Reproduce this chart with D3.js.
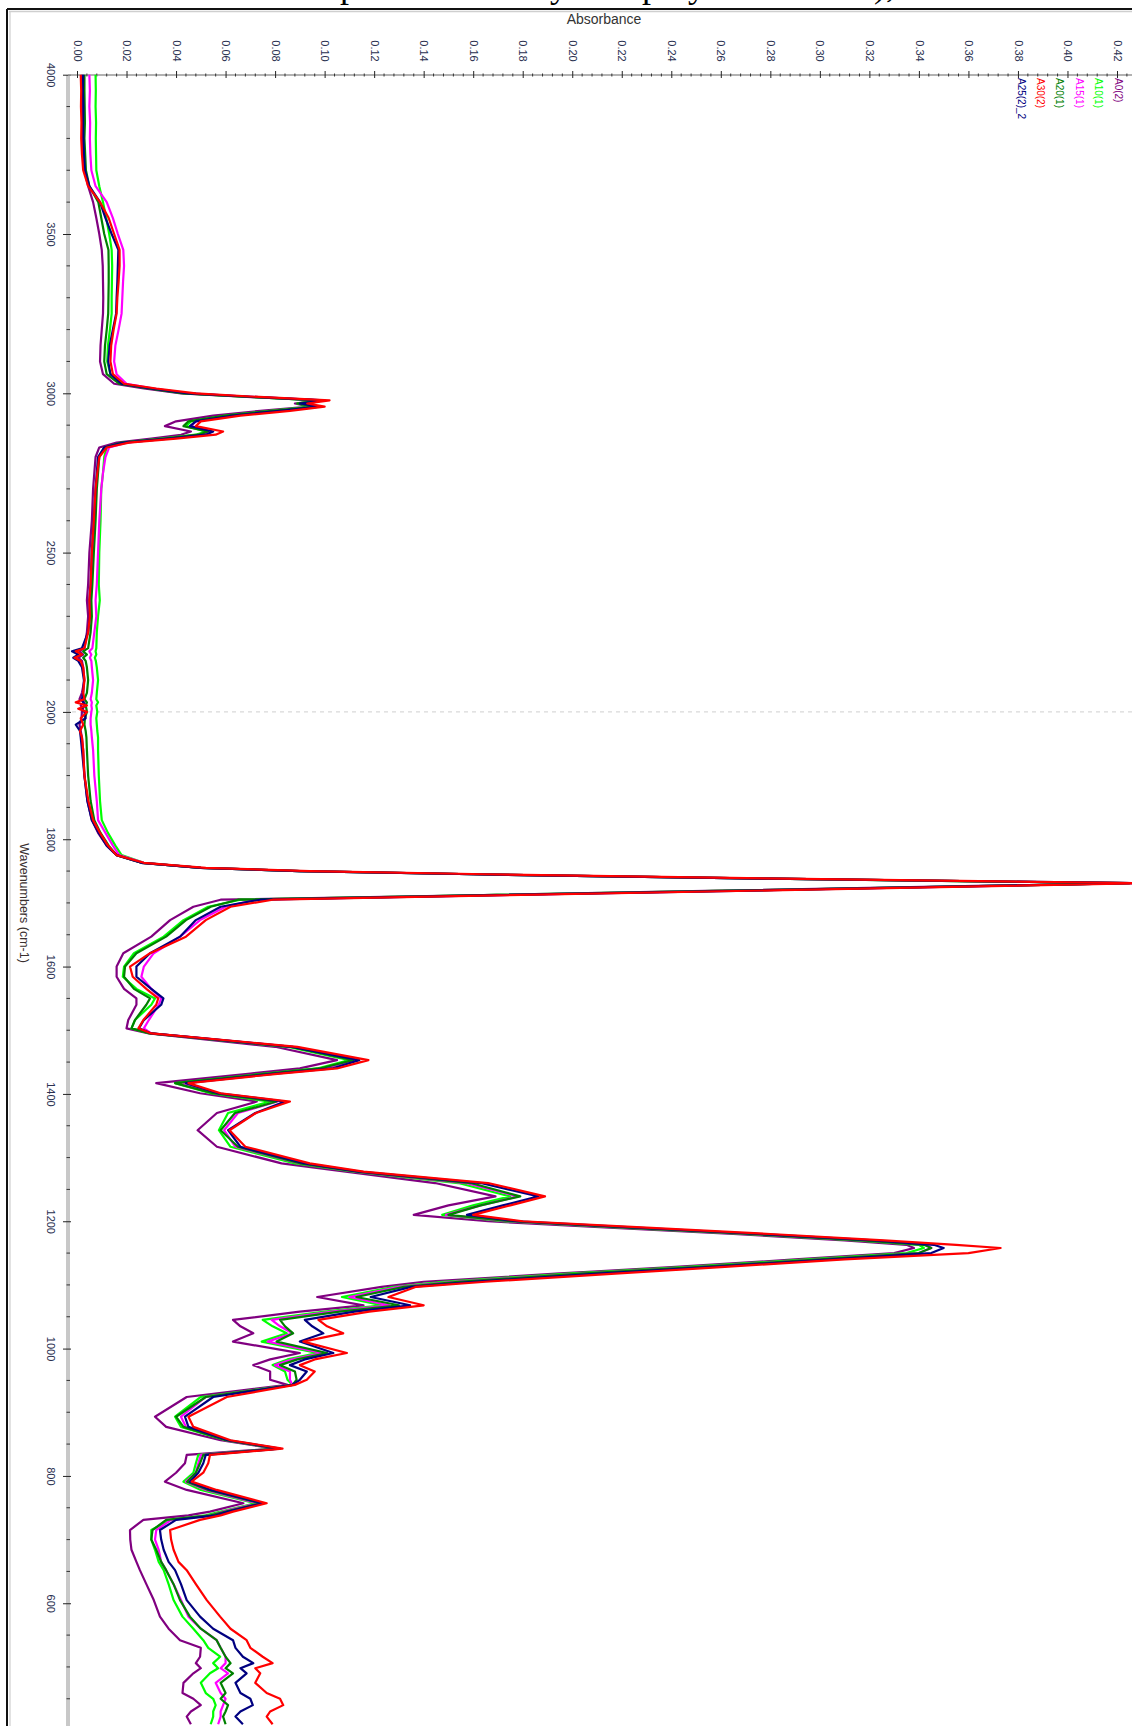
<!DOCTYPE html>
<html>
<head>
<meta charset="utf-8">
<script src="https://cdn.jsdelivr.net/npm/d3@7/dist/d3.min.js"></script>
<style>
  body { margin: 0; background: #fff; }
  svg { display: block; }
</style>
</head>
<body>
<div id="chart"></div>
<script>
(function () {
  'use strict';

  // wavenumber grid (cm-1), shared by all spectra
  var wavenumbers = [
    4000, 3950, 3900, 3850, 3800, 3750, 3700, 3650, 3600, 3550, 3500, 3450, 3400, 3350, 3300, 3250, 3200, 3150, 3100,
    3060, 3030, 3015, 3000, 2990, 2978, 2968, 2958, 2945, 2930, 2912, 2897, 2880, 2870, 2858, 2845, 2830,
    2800, 2750, 2700, 2600, 2500, 2400, 2350, 2300, 2250, 2200, 2190, 2180, 2170, 2160, 2140,
    2100, 2060, 2040, 2030, 2020, 2010, 2000, 1990, 1980, 1970, 1960, 1940, 1900, 1860, 1830,
    1810, 1790, 1775, 1763, 1755, 1750, 1745, 1738, 1731, 1720, 1710, 1705, 1694,
    1673, 1647, 1621, 1600, 1584, 1565, 1550, 1540, 1516, 1503, 1495, 1474, 1453, 1440, 1432, 1417,
    1401, 1388, 1370, 1343, 1317, 1291, 1278, 1260, 1239, 1225, 1210,
    1200, 1190, 1180, 1170, 1163, 1158, 1150, 1140, 1128, 1118, 1105, 1097,
    1081, 1068, 1058, 1045, 1035, 1024, 1011, 993, 983, 974, 964, 951, 943,
    924, 893, 877, 856, 843, 833, 820, 805, 791, 778, 757, 744, 738, 731,
    715, 700, 684, 665, 652, 630, 605, 579, 560, 542, 530, 516, 506, 498, 490, 475, 459, 450, 440, 430, 422, 410
  ];

  var a0 = [
    .0020, .0022, .0021, .0023, .0022, .0025, .0030, .0045, .0065, .0078, .0090, .0100, .0104, .0105, .0106, .0105, .0100, .0095, .0093,
    .0105, .0150, .0270, .0420, .0650, .0980, .0880, .0940, .0740, .0550, .0400, .0355, .0460, .0420, .0300, .0160, .0090,
    .0075, .0070, .0065, .0060, .0050, .0045, .0040, .0045, .0040, .0030, .0010, .0025, .0005, .0020, .0025,
    .0030, .0020, .0010, .0030, .0015, .0025, .0020, .0018, .0010, .0015, .0020, .0025, .0030, .0042, .0060,
    .0085, .0120, .0160, .0260, .0500, .0900, .1600, .2800, .4250, .2700, .1300, .0580, .0470,
    .0376, .0300, .0187, .0160, .0160, .0190, .0240, .0240, .0207, .0200, .0290, .0800, .1050, .0900, .0700, .0320,
    .0497, .0726, .0565, .0487, .0565, .0826, .1085, .1446, .1690, .1500, .1360,
    .1660, .2150, .2650, .3100, .3350, .3380, .3300, .2900, .2400, .1950, .1400, .1230,
    .0970, .1157, .0900, .0630, .0660, .0712, .0630, .0900, .0780, .0712, .0780, .0780, .0850,
    .0443, .0315, .0360, .0580, .0800, .0443, .0436, .0400, .0355, .0443, .0672, .0537, .0450, .0268,
    .0214, .0215, .0220, .0240, .0254, .0280, .0310, .0335, .0370, .0416, .0500, .0497, .0480, .0500, .0470, .0430, .0426, .0470, .0500, .0460, .0443, .0460
  ];

  var a10 = [
    .0075, .0076, .0075, .0077, .0076, .0077, .0078, .0090, .0105, .0118, .0130, .0140, .0142, .0141, .0140, .0140, .0133, .0125, .0122,
    .0135, .0180, .0300, .0440, .0660, .0970, .0890, .0950, .0780, .0600, .0460, .0440, .0520, .0480, .0340, .0190, .0120,
    .0110, .0105, .0098, .0095, .0090, .0088, .0092, .0085, .0080, .0078, .0075, .0078, .0072, .0076, .0080,
    .0085, .0080, .0078, .0085, .0078, .0080, .0082, .0078, .0080, .0082, .0085, .0085, .0088, .0093, .0100,
    .0125, .0155, .0180, .0270, .0500, .0900, .1600, .2800, .4250, .2750, .1330, .0660, .0530,
    .0430, .0350, .0230, .0190, .0185, .0240, .0315, .0300, .0234, .0220, .0295, .0850, .1100, .0970, .0760, .0396,
    .0540, .0780, .0610, .0573, .0620, .0880, .1120, .1540, .1750, .1600, .1475,
    .1720, .2200, .2700, .3150, .3400, .3420, .3350, .2950, .2450, .2000, .1480, .1280,
    .1070, .1230, .1000, .0750, .0790, .0847, .0746, .0970, .0850, .0790, .0840, .0850, .0870,
    .0500, .0396, .0420, .0600, .0810, .0490, .0480, .0470, .0430, .0500, .0720, .0580, .0520, .0376,
    .0300, .0300, .0315, .0330, .0350, .0370, .0390, .0426, .0470, .0510, .0530, .0578, .0550, .0570, .0537, .0500, .0520, .0550, .0560, .0550, .0550, .0540
  ];

  var a15 = [
    .0050, .0052, .0050, .0053, .0052, .0054, .0058, .0075, .0120, .0145, .0165, .0187, .0190, .0186, .0183, .0180, .0168, .0155, .0150,
    .0160, .0200, .0310, .0450, .0680, .0990, .0900, .0970, .0800, .0620, .0480, .0460, .0540, .0500, .0360, .0200, .0130,
    .0115, .0105, .0098, .0090, .0085, .0080, .0075, .0078, .0070, .0062, .0050, .0058, .0052, .0058, .0060,
    .0065, .0060, .0055, .0060, .0058, .0060, .0058, .0055, .0055, .0058, .0060, .0065, .0070, .0080, .0085,
    .0115, .0145, .0170, .0270, .0500, .0900, .1600, .2800, .4260, .2780, .1360, .0720, .0600,
    .0497, .0416, .0310, .0270, .0260, .0300, .0340, .0330, .0290, .0270, .0300, .0870, .1120, .1000, .0780, .0430,
    .0560, .0810, .0650, .0594, .0640, .0900, .1130, .1570, .1780, .1630, .1490,
    .1740, .2220, .2720, .3180, .3430, .3450, .3400, .3000, .2500, .2050, .1520, .1300,
    .1100, .1260, .1030, .0786, .0820, .0870, .0770, .0990, .0870, .0800, .0860, .0860, .0870,
    .0520, .0420, .0440, .0600, .0810, .0500, .0490, .0480, .0440, .0520, .0730, .0590, .0540, .0380,
    .0320, .0315, .0330, .0340, .0360, .0390, .0420, .0450, .0500, .0564, .0580, .0600, .0600, .0580, .0610, .0560, .0580, .0600, .0590, .0580, .0580, .0570
  ];

  var a20 = [
    .0030, .0030, .0031, .0032, .0030, .0033, .0036, .0050, .0086, .0098, .0110, .0127, .0128, .0128, .0127, .0126, .0120, .0113, .0110,
    .0120, .0170, .0290, .0430, .0660, .0980, .0890, .0960, .0790, .0600, .0450, .0430, .0530, .0490, .0350, .0180, .0110,
    .0090, .0085, .0080, .0075, .0068, .0062, .0058, .0060, .0055, .0045, .0025, .0040, .0025, .0035, .0040,
    .0045, .0040, .0030, .0040, .0035, .0038, .0040, .0032, .0030, .0035, .0038, .0040, .0045, .0055, .0070,
    .0095, .0128, .0160, .0260, .0500, .0900, .1600, .2800, .4250, .2750, .1340, .0650, .0540,
    .0440, .0360, .0240, .0194, .0190, .0230, .0295, .0280, .0234, .0220, .0295, .0860, .1115, .0980, .0770, .0396,
    .0550, .0806, .0638, .0580, .0650, .0900, .1130, .1590, .1790, .1630, .1500,
    .1750, .2220, .2720, .3170, .3420, .3450, .3400, .3000, .2500, .2050, .1540, .1320,
    .1128, .1300, .1060, .0820, .0840, .0873, .0806, .1010, .0890, .0820, .0880, .0887, .0870,
    .0520, .0400, .0430, .0600, .0810, .0510, .0497, .0480, .0445, .0530, .0740, .0600, .0540, .0360,
    .0305, .0300, .0320, .0340, .0360, .0390, .0416, .0456, .0500, .0564, .0580, .0600, .0620, .0600, .0630, .0580, .0600, .0580, .0610, .0600, .0590, .0600
  ];

  var a30 = [
    .0015, .0017, .0016, .0018, .0017, .0020, .0025, .0045, .0093, .0128, .0150, .0172, .0172, .0168, .0163, .0160, .0148, .0138, .0135,
    .0145, .0190, .0320, .0480, .0700, .1020, .0930, .1000, .0860, .0660, .0500, .0480, .0590, .0560, .0400, .0210, .0120,
    .0090, .0082, .0075, .0068, .0060, .0055, .0050, .0052, .0045, .0030, -.0005, .0020, -.0010, .0015, .0025,
    .0030, .0025, .0030, -.0005, .0040, .0005, .0040, .0015, .0025, .0012, .0020, .0025, .0030, .0046, .0065,
    .0093, .0125, .0160, .0270, .0520, .0940, .1650, .2850, .4300, .2850, .1420, .0790, .0620,
    .0520, .0440, .0295, .0214, .0225, .0280, .0328, .0320, .0268, .0248, .0300, .0890, .1177, .1050, .0820, .0450,
    .0580, .0860, .0723, .0616, .0680, .0940, .1157, .1660, .1890, .1750, .1600,
    .1800, .2300, .2800, .3260, .3550, .3730, .3600, .3100, .2600, .2190, .1650, .1370,
    .1258, .1400, .1180, .0975, .1010, .1075, .0914, .1090, .0960, .0900, .0960, .0928, .0880,
    .0605, .0450, .0470, .0620, .0830, .0537, .0530, .0510, .0463, .0564, .0766, .0630, .0580, .0497,
    .0376, .0380, .0390, .0410, .0443, .0480, .0524, .0578, .0620, .0685, .0700, .0750, .0790, .0720, .0740, .0720, .0766, .0820, .0833, .0780, .0766, .0790
  ];

  var a25 = [
    .0025, .0024, .0026, .0025, .0026, .0028, .0032, .0050, .0093, .0115, .0140, .0167, .0165, .0163, .0160, .0158, .0145, .0132, .0126,
    .0135, .0180, .0300, .0450, .0680, .1000, .0900, .0980, .0820, .0630, .0480, .0456, .0550, .0520, .0370, .0190, .0110,
    .0085, .0080, .0075, .0068, .0060, .0055, .0050, .0052, .0045, .0020, -.0020, .0005, -.0015, .0005, .0020,
    .0028, .0025, .0020, .0025, .0035, .0015, .0030, .0035, -.0005, .0012, .0015, .0020, .0030, .0042, .0060,
    .0088, .0120, .0160, .0260, .0500, .0900, .1600, .2800, .4270, .2800, .1390, .0740, .0580,
    .0480, .0416, .0295, .0240, .0240, .0300, .0349, .0340, .0270, .0250, .0300, .0870, .1140, .1030, .0800, .0440,
    .0570, .0840, .0720, .0610, .0660, .0920, .1140, .1630, .1864, .1720, .1575,
    .1780, .2260, .2760, .3220, .3460, .3500, .3450, .3050, .2550, .2120, .1600, .1350,
    .1186, .1345, .1120, .0920, .0950, .0995, .0900, .1035, .0920, .0860, .0928, .0900, .0870,
    .0550, .0436, .0450, .0610, .0820, .0520, .0510, .0490, .0456, .0540, .0750, .0610, .0560, .0400,
    .0335, .0340, .0350, .0370, .0396, .0420, .0443, .0497, .0550, .0630, .0640, .0670, .0712, .0660, .0685, .0640, .0660, .0700, .0710, .0660, .0640, .0670
  ];

  var seriesNames = ['A0(2)', 'A10(1)', 'A15(1)', 'A20(1)', 'A30(2)', 'A25(2)_2'];
  var seriesValues = [a0, a10, a15, a20, a30, a25];
  var seriesColors = ['#800080', '#00ff00', '#ff00ff', '#008000', '#ff0000', '#000080'];
  var drawOrder = [0, 1, 2, 3, 5, 4];

  var absTicks = [0, .02, .04, .06, .08, .10, .12, .14, .16, .18, .20, .22, .24, .26, .28, .30, .32, .34, .36, .38, .40, .42];
  var wnTicks = [4000, 3500, 3000, 2500, 2000, 1800, 1600, 1400, 1200, 1000, 800, 600];

  var width = 1132;
  var height = 1726;
  var axisX = 68;
  var axisY = 75;

  // the spectrum is shown turned a quarter clockwise: wavenumber runs down, absorbance runs right
  var x = d3.scaleLinear().domain([0, 0.42]).range([77, 1117]);
  var y = d3.scaleLinear().domain([4000, 2000, 400]).range([74.7, 711.9, 1730.6]);

  var svg = d3.select('#chart')
      .append('svg')
      .attr('width', width)
      .attr('height', height)
      .style('font-family', 'Arial, "Liberation Sans", sans-serif');

  svg.append('rect').attr('width', width).attr('height', height).attr('fill', '#fff');

  // caption sits above the page, only its descenders show
  var cap = svg.append('text')
      .attr('y', -3)
      .style('font-family', '"Liberation Serif", "Times New Roman", serif')
      .style('font-size', '36px')
      .attr('fill', '#000');
  cap.append('tspan').attr('x', 326).text('spectra of the');
  cap.append('tspan').attr('x', 532).text('by');
  cap.append('tspan').attr('x', 642).text('poly');
  cap.append('tspan').attr('x', 895).attr('text-anchor', 'end').text('acid),');

  // outer frame
  svg.append('line').attr('x1', 7).attr('x2', 7).attr('y1', 9).attr('y2', height)
      .attr('stroke', '#111').attr('stroke-width', 2);
  svg.append('line').attr('x1', 7).attr('x2', width).attr('y1', 9).attr('y2', 9)
      .attr('stroke', '#111').attr('stroke-width', 2);
  svg.append('line').attr('x1', 10).attr('x2', 10).attr('y1', 11).attr('y2', height)
      .attr('stroke', '#e2e2e2').attr('stroke-width', 2);
  svg.append('line').attr('x1', 9).attr('x2', width).attr('y1', 11.5).attr('y2', 11.5)
      .attr('stroke', '#cfcfcf').attr('stroke-width', 1.5);

  svg.append('text')
      .attr('x', 604).attr('y', 24)
      .attr('text-anchor', 'middle')
      .style('font-size', '14px')
      .attr('fill', '#333')
      .text('Absorbance');

  // scale break marker at 2000 cm-1
  svg.append('line')
      .attr('x1', axisX + 4).attr('x2', width)
      .attr('y1', y(2000)).attr('y2', y(2000))
      .attr('stroke', '#cfcfcf').attr('stroke-dasharray', '4,4');

  // wavenumber axis (left)
  svg.append('line')
      .attr('x1', axisX).attr('x2', axisX)
      .attr('y1', axisY).attr('y2', height)
      .attr('stroke', '#c8c8c8').attr('stroke-width', 4);

  var wnMinor = d3.range(4000, 2000, -100).concat(d3.range(2000, 399, -50))
      .filter(function (d) { return wnTicks.indexOf(d) < 0; });

  svg.append('g')
      .attr('transform', 'translate(' + axisX + ',0)')
      .selectAll('line')
      .data(wnMinor)
      .enter()
      .append('line')
      .attr('x1', -1.5).attr('x2', 2)
      .attr('y1', function (d) { return y(d); })
      .attr('y2', function (d) { return y(d); })
      .attr('stroke', '#333');

  var gy = svg.append('g')
      .attr('transform', 'translate(' + axisX + ',0)')
      .call(d3.axisLeft(y).tickValues(wnTicks).tickFormat(d3.format('d')).tickSize(5).tickPadding(0));
  gy.select('.domain').remove();
  gy.selectAll('.tick line').attr('x1', -5).attr('x2', 3).attr('stroke', '#222');
  gy.selectAll('.tick text')
      .attr('x', 0).attr('y', 0).attr('dy', '0.35em')
      .attr('text-anchor', 'middle')
      .attr('transform', 'translate(-17,0) rotate(90)')
      .style('font-size', '11px')
      .attr('fill', '#2a3050');

  svg.append('text')
      .attr('transform', 'translate(24,903) rotate(90)')
      .attr('dy', '0.35em')
      .attr('text-anchor', 'middle')
      .style('font-size', '12.5px')
      .attr('fill', '#3a3030')
      .text('Wavenumbers (cm-1)');

  // absorbance axis (top)
  svg.append('line')
      .attr('x1', axisX).attr('x2', width)
      .attr('y1', axisY).attr('y2', axisY)
      .attr('stroke', '#999').attr('stroke-width', 1.5);

  var absMinor = d3.range(0, 0.44, 0.004).filter(function (d, i) { return i % 5 !== 0; });
  svg.append('g')
      .selectAll('line')
      .data(absMinor)
      .enter()
      .append('line')
      .attr('x1', function (d) { return x(d); })
      .attr('x2', function (d) { return x(d); })
      .attr('y1', axisY - 1.5).attr('y2', axisY + 1.5)
      .attr('stroke', '#333');

  var gx = svg.append('g')
      .attr('transform', 'translate(0,' + axisY + ')')
      .call(d3.axisTop(x).tickValues(absTicks).tickFormat(d3.format('.2f')).tickSize(4));
  gx.select('.domain').remove();
  gx.selectAll('.tick line').attr('y1', -4).attr('y2', 3).attr('stroke', '#222');
  gx.selectAll('.tick text')
      .attr('x', 0).attr('y', 0).attr('dy', '0.35em')
      .attr('text-anchor', 'middle')
      .attr('transform', 'translate(0,-24) rotate(90)')
      .style('font-size', '11px')
      .attr('fill', '#2a3050');

  // spectra
  var line = d3.line()
      .x(function (d) { return x(d[1]); })
      .y(function (d) { return y(d[0]); });

  svg.append('g')
      .selectAll('path')
      .data(drawOrder)
      .enter()
      .append('path')
      .attr('d', function (i) { return line(d3.zip(wavenumbers, seriesValues[i])); })
      .attr('fill', 'none')
      .attr('stroke', function (i) { return seriesColors[i]; })
      .attr('stroke-width', 2.2)
      .attr('stroke-linejoin', 'round');

  // legend, turned like the rest
  svg.append('g')
      .selectAll('text')
      .data(seriesNames)
      .enter()
      .append('text')
      .attr('transform', function (d, i) { return 'translate(' + (1118 - i * 19.4) + ',78) rotate(90)'; })
      .attr('dy', '0.35em')
      .style('font-size', '10px')
      .attr('fill', function (d, i) { return seriesColors[i]; })
      .text(function (d) { return d; });
}());
</script>
</body>
</html>
